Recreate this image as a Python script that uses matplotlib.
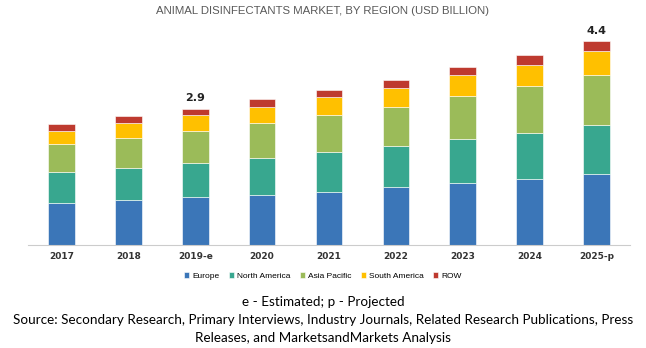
import matplotlib.pyplot as plt
import numpy as np

years = ["2017", "2018", "2019-e", "2020", "2021", "2022", "2023", "2024", "2025-p"]
regions = ["Europe", "North America", "Asia Pacific", "South America", "ROW"]
europe = [0.90, 0.96, 1.03, 1.08, 1.14, 1.24, 1.33, 1.41, 1.52]
north_america = [0.67, 0.70, 0.74, 0.80, 0.86, 0.89, 0.95, 1.00, 1.07]
asia_pacific = [0.61, 0.65, 0.69, 0.75, 0.80, 0.83, 0.92, 1.00, 1.07]
south_america = [0.28, 0.32, 0.34, 0.34, 0.38, 0.42, 0.45, 0.47, 0.52]
row = [0.14, 0.14, 0.13, 0.16, 0.16, 0.17, 0.18, 0.20, 0.20]
totals_shown = {"2019-e": "2.9", "2025-p": "4.4"}

colors = ["#3b76b8", "#38a78f", "#9bbb59", "#ffc000", "#be3a2f"]
series = [europe, north_america, asia_pacific, south_america, row]


def fit_width(fig, txt, width_px):
    # shrink/grow the font so the text spans roughly width_px pixels
    r = fig.canvas.get_renderer()
    w = txt.get_window_extent(renderer=r).width
    txt.set_fontsize(txt.get_fontsize() * width_px / w)


fig = plt.figure(figsize=(6.46, 3.48), dpi=100)
ax = fig.add_axes([28 / 646, 1 - 245 / 348, 602 / 646, 215 / 348])

x = np.arange(len(years))
bottom = np.zeros(len(years))
for name, vals, c in zip(regions, series, colors):
    ax.bar(x, vals, 0.4, bottom=bottom, color=c, label=name,
           edgecolor="white", linewidth=0.4)
    bottom += np.array(vals)

for i, yr in enumerate(years):
    if yr in totals_shown:
        ax.text(i, bottom[i] + 0.12, totals_shown[yr], ha="center", va="bottom",
                fontsize=8, fontweight="bold", color="#222222")

ax.set_xlim(-0.5, 8.5)
ax.set_ylim(0, 215 / 46.5)
ax.set_yticks([])
for s in ["top", "right", "left"]:
    ax.spines[s].set_visible(False)
ax.spines["bottom"].set_color("#cccccc")
ax.set_xticks(x)
ax.set_xticklabels(years, fontsize=6.5, fontweight="bold", color="#333333")
ax.tick_params(axis="x", length=0, pad=5)

title = fig.text(0.5, 1 - 11 / 348, "ANIMAL DISINFECTANTS MARKET, BY REGION (USD BILLION)",
                 ha="center", va="center", fontsize=10, color="#595959",
                 family=["Liberation Sans Narrow", "Liberation Sans"])
fit_width(fig, title, 335)

fig.legend(loc="center", bbox_to_anchor=(0.5, 1 - 276 / 348), ncol=5,
           frameon=False, handlelength=0.6, handleheight=0.6,
           handletextpad=0.4, columnspacing=1.1,
           prop={"family": ["Liberation Sans Narrow", "Liberation Sans"], "size": 6})

note = fig.text(0.5, 1 - 302 / 348, "e - Estimated; p - Projected", ha="center",
                va="center", fontsize=10, color="black", family="Lato")
src1 = fig.text(0.5, 1 - 320 / 348,
                "Source: Secondary Research, Primary Interviews, Industry Journals, Related Research Publications, Press",
                ha="center", va="center", fontsize=10, color="black", family="Lato")
fit_width(fig, src1, 618)
note.set_fontsize(src1.get_fontsize())
fig.text(0.5, 1 - 338 / 348, "Releases, and MarketsandMarkets Analysis",
         ha="center", va="center", fontsize=src1.get_fontsize(), color="black", family="Lato")

fig.savefig("out.png", dpi=100)
